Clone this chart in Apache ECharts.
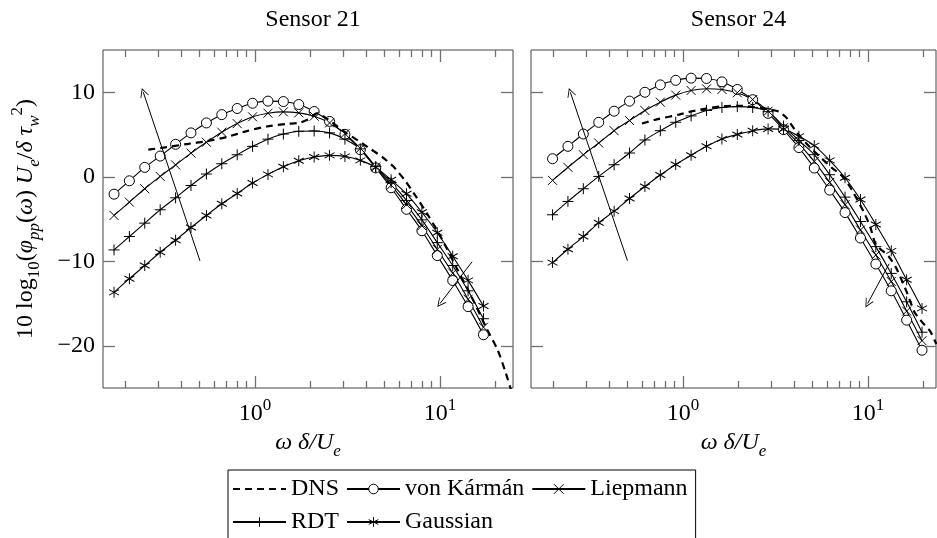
<!DOCTYPE html>
<html><head><meta charset="utf-8">
<script src="https://cdn.jsdelivr.net/npm/echarts@6/dist/echarts.min.js"></script>
<style>html,body{margin:0;padding:0;background:#fff}#c{width:937px;height:538px}</style>
</head><body><div id="c"></div>
<script>
// ---------- data ----------
const xS21 = [0.173,0.2094,0.2535,0.3073,0.3722,0.4508,0.5461,0.6614,0.8012,0.9701,1.175,1.423,1.724,2.088,2.529,3.062,3.709,4.492,5.440,6.589,7.980,9.665,11.71,14.18,17.17];
const s21VonKarman = [-2.06,-0.48,1.11,2.45,3.84,5.19,6.37,7.35,8.08,8.7,8.95,8.9,8.55,7.72,6.55,5.02,3.2,1.05,-1.3,-3.85,-6.39,-9.33,-12.28,-15.37,-18.7];
const s21Liepmann  = [-4.58,-3.0,-1.42,0.04,1.4,2.8,4.08,5.27,6.29,7.09,7.52,7.68,7.56,7.17,6.37,5.1,3.35,1.15,-1.0,-3.3,-5.8,-8.6,-11.4,-14.5,-17.8];
const s21RDT       = [-8.66,-7.07,-5.49,-3.91,-2.49,-1.03,0.32,1.54,2.6,3.6,4.45,5.05,5.38,5.42,5.19,4.45,3.3,1.2,-0.7,-2.8,-5.1,-7.8,-10.5,-13.5,-16.8];
const s21Gaussian  = [-13.68,-12.06,-10.51,-8.93,-7.51,-6.01,-4.58,-3.2,-1.98,-0.75,0.28,1.19,1.9,2.33,2.53,2.41,1.94,1.11,-0.36,-2.02,-4.2,-6.63,-9.4,-12.26,-15.3];
const s21DnsX = [0.265,0.333,0.428,0.548,0.703,0.902,1.156,1.48,1.75,1.98,2.15,2.4,2.7,3.1,3.6,4.2,4.9,5.6,6.5,7.5,8.7,10.2,12.3,14.8,17.9,20.5,22.5,24.5];
const s21DnsY = [3.2,3.5,3.87,4.2,4.7,5.4,5.95,6.25,6.4,6.9,7.5,7.0,6.2,5.2,4.3,3.3,2.3,1.2,-0.5,-2.5,-4.7,-7.3,-10.8,-14.2,-18.0,-20.5,-23.0,-25.6];

const xS24 = [0.1972,0.2388,0.2892,0.3503,0.4243,0.514,0.6224,0.754,0.9133,1.106,1.340,1.623,1.965,2.380,2.883,3.491,4.229,5.122,6.204,7.512,9.099,11.02,13.35,16.17,19.58];
const s24VonKarman = [2.13,3.6,5.06,6.44,7.76,8.95,10.0,10.87,11.41,11.67,11.63,11.23,10.33,9.12,7.5,5.58,3.45,1.03,-1.58,-4.24,-7.25,-10.33,-13.5,-16.97,-20.53];
const s24Liepmann  = [-0.43,1.11,2.61,3.99,5.45,6.65,7.84,8.83,9.66,10.21,10.41,10.33,9.94,9.14,7.76,5.8,3.9,1.82,-0.67,-3.3,-6.3,-9.26,-12.4,-15.9,-19.4];
const s24RDT       = [-4.5,-2.92,-1.42,0.04,1.42,2.81,4.35,5.45,6.45,7.2,7.85,8.2,8.3,8.2,7.7,6.0,4.3,2.61,0.24,-2.41,-5.3,-8.27,-11.44,-14.8,-18.4];
const s24Gaussian  = [-10.16,-8.58,-7.08,-5.45,-4.07,-2.57,-1.15,0.2,1.45,2.55,3.6,4.48,5.0,5.45,5.66,5.62,4.78,3.68,1.94,-0.12,-2.7,-5.65,-8.77,-12.18,-15.58];
const s24DnsX = [0.6,0.74,0.95,1.12,1.35,1.66,2.04,2.41,2.9,3.3,3.62,4.1,4.8,5.6,6.5,7.1,8.0,9.5,10.3,11,12.9,14.2,16.3,17.8,19.6,21.7,23.4];
const s24DnsY = [6.3,6.85,7.35,7.75,8.1,8.35,8.4,8.25,8.0,7.7,7.0,5.3,3.6,2.2,0.9,0.3,-1.2,-4.2,-6.0,-8.0,-9.4,-10.8,-13.8,-16,-17.2,-18.3,-19.8];

// annotation arrows [from, to] in data units
const s21Arrows = [[[0.504,-9.94],[0.249,10.0]], [[14.9,-10.06],[10.0,-15.0]]];
const s24Arrows = [[[0.501,-9.94],[0.246,10.0]], [[13.0,-10.3],[9.95,-15.0]]];

const seriesNames = ['DNS','von Kármán','Liepmann','RDT','Gaussian'];
const panelTitles = ['Sensor 21','Sensor 24'];
const xMajorTicks = [1, 10];
const xMinorTicks = [0.2,0.3,0.4,0.5,0.6,0.7,0.8,0.9,2,3,4,5,6,7,8,9,20];
const yTicks = [-20,-10,0,10];

// ---------- styling ----------
const FONT = '"Liberation Serif","DejaVu Serif",serif';
const FS = 24, SFS = 17;
const TXT = '#000';
const TICK = '#707070';
const rich = {
  n: {fontFamily: FONT, fontSize: FS, color: TXT, lineHeight: 34},
  i: {fontFamily: FONT, fontSize: FS, color: TXT, fontStyle: 'italic', lineHeight: 34},
  s: {fontFamily: FONT, fontSize: SFS, color: TXT, verticalAlign: 'bottom', lineHeight: 17},
  si: {fontFamily: FONT, fontSize: SFS, color: TXT, fontStyle: 'italic', verticalAlign: 'bottom', lineHeight: 17},
  p: {fontFamily: FONT, fontSize: SFS, color: TXT, verticalAlign: 'top', lineHeight: 17}
};
const SYM = {
  plus: 'path://M5,0L5,10M0,5L10,5',
  cross: 'path://M0,0L10,10M10,0L0,10',
  star: 'path://M5,0L5,10M0.67,2.5L9.33,7.5M0.67,7.5L9.33,2.5',
  head: 'path://M5,0L10,10L9,10L5,2.2L1,10L0,10Z'
};

const grids = [
  {left: 103, top: 50, width: 410, height: 338},
  {left: 531, top: 50, width: 405, height: 338}
];
const X_MIN = 0.1508;
const xMaxs = [24.8, 23.3];

const xAxis = [], yAxis = [];
grids.forEach((g, gi) => {
  const base = {type: 'log', logBase: 10, min: X_MIN, max: xMaxs[gi], gridIndex: gi,
    axisLine: {show: false, onZero: false}, splitLine: {show: false}};
  ['bottom','top'].forEach(pos => {
    xAxis.push(Object.assign({}, base, {
      position: pos,
      axisTick: {show: true, inside: true, length: 12, lineStyle: {color: TICK, width: 1.3}, customValues: xMajorTicks},
      axisLabel: pos === 'bottom' ? {show: true, customValues: xMajorTicks, margin: 9,
        formatter: v => '{n|10}{p|' + Math.round(Math.log10(v)) + '}', rich: rich} : {show: false},
      name: pos === 'bottom' ? '{i|ω δ/U}{si|e}' : '',
      nameLocation: 'middle', nameGap: 36,
      nameTextStyle: {rich: rich}
    }));
    xAxis.push(Object.assign({}, base, {
      position: pos,
      axisTick: {show: true, inside: true, length: 7, lineStyle: {color: TICK, width: 1.3}, customValues: xMinorTicks},
      axisLabel: {show: false}
    }));
  });
  ['left','right'].forEach(pos => {
    yAxis.push({
      type: 'value', min: -25, max: 15, gridIndex: gi, position: pos,
      axisLine: {show: false, onZero: false}, splitLine: {show: false},
      axisTick: {show: true, inside: true, length: 12, lineStyle: {color: TICK, width: 1.3}, customValues: yTicks},
      axisLabel: (gi === 0 && pos === 'left') ? {show: true, customValues: yTicks, margin: 8,
        fontFamily: FONT, fontSize: FS, color: TXT,
        formatter: v => v < 0 ? '\u2212' + (-v) : String(v)} : {show: false},
      name: (gi === 0 && pos === 'left') ? '{n|10 log}{s|10}{n|(}{i|φ}{si|pp}{n|(}{i|ω}{n|) }{i|U}{si|e}{n|/}{i|δ τ}{si|w}{p|2}{n|)}' : '',
      nameLocation: 'middle', nameRotate: 90, nameGap: 60,
      nameTextStyle: {rich: rich}
    });
  });
});

function pairs(xs, ys) { return xs.map((x, k) => [x, ys[k]]); }

const panels = [
  {x: xS21, vk: s21VonKarman, li: s21Liepmann, rdt: s21RDT, ga: s21Gaussian, dx: s21DnsX, dy: s21DnsY, arrows: s21Arrows},
  {x: xS24, vk: s24VonKarman, li: s24Liepmann, rdt: s24RDT, ga: s24Gaussian, dx: s24DnsX, dy: s24DnsY, arrows: s24Arrows}
];
const series = [];
panels.forEach((p, gi) => {
  const xi = gi * 4, yi = gi * 2;
  const common = {type: 'line', xAxisIndex: xi, yAxisIndex: yi, smooth: 0.3, animation: false, clip: true,
    lineStyle: {color: '#000', width: 1.1}, z: 3};
  series.push(Object.assign({}, common, {
    name: seriesNames[0], data: pairs(p.dx, p.dy), symbol: 'none', smooth: 0.2,
    lineStyle: {color: '#000', width: 2.2, type: [7, 5]}, itemStyle: {color: '#000'}, z: 4
  }));
  series.push(Object.assign({}, common, {
    name: seriesNames[1], data: pairs(p.x, p.vk), symbol: 'circle', symbolSize: 10,
    itemStyle: {color: '#fff', borderColor: '#000', borderWidth: 1}
  }));
  series.push(Object.assign({}, common, {
    name: seriesNames[2], data: pairs(p.x, p.li), symbol: SYM.cross, symbolSize: 9,
    itemStyle: {color: 'rgba(0,0,0,0)', borderColor: '#000', borderWidth: 1}
  }));
  series.push(Object.assign({}, common, {
    name: seriesNames[3], data: pairs(p.x, p.rdt), symbol: SYM.plus, symbolSize: 11,
    itemStyle: {color: 'rgba(0,0,0,0)', borderColor: '#000', borderWidth: 1}
  }));
  series.push(Object.assign({}, common, {
    name: seriesNames[4], data: pairs(p.x, p.ga), symbol: SYM.star, symbolSize: [10, 11],
    itemStyle: {color: 'rgba(0,0,0,0)', borderColor: '#000', borderWidth: 1}
  }));
  series.push({
    type: 'lines', coordinateSystem: 'cartesian2d', xAxisIndex: xi, yAxisIndex: yi,
    animation: false, silent: true, z: 5,
    symbol: ['none', SYM.head], symbolSize: [7, 9],
    lineStyle: {color: '#000', width: 1, opacity: 1},
    data: p.arrows.map(a => ({coords: a}))
  });
});

const chart = echarts.init(document.getElementById('c'), null, {renderer: 'canvas'});
chart.setOption({
  backgroundColor: '#fff',
  animation: false,
  title: panelTitles.map((t, k) => ({
    text: t, left: grids[k].left + grids[k].width / 2, top: 3, textAlign: 'center',
    textStyle: {fontFamily: FONT, fontSize: FS, fontWeight: 'normal', color: TXT}
  })),
  grid: grids.map(g => Object.assign({show: true, borderColor: '#444', borderWidth: 1}, g)),
  xAxis: xAxis,
  yAxis: yAxis,
  legend: {
    data: seriesNames.map((n, k) => k === 0
      ? {name: n, itemStyle: {color: 'rgba(0,0,0,0)', borderColor: 'rgba(0,0,0,0)', borderWidth: 0}}
      : {name: n}),
    left: 228, top: 470, width: 520,
    orient: 'horizontal', itemWidth: 53, itemHeight: 12, itemGap: 7,
    padding: [6, 8, 6, 4], borderColor: '#000', borderWidth: 1,
    textStyle: {fontFamily: FONT, fontSize: FS, color: TXT, lineHeight: 26},
    itemStyle: {borderWidth: 1}
  },
  series: series
});
</script>
</body></html>
